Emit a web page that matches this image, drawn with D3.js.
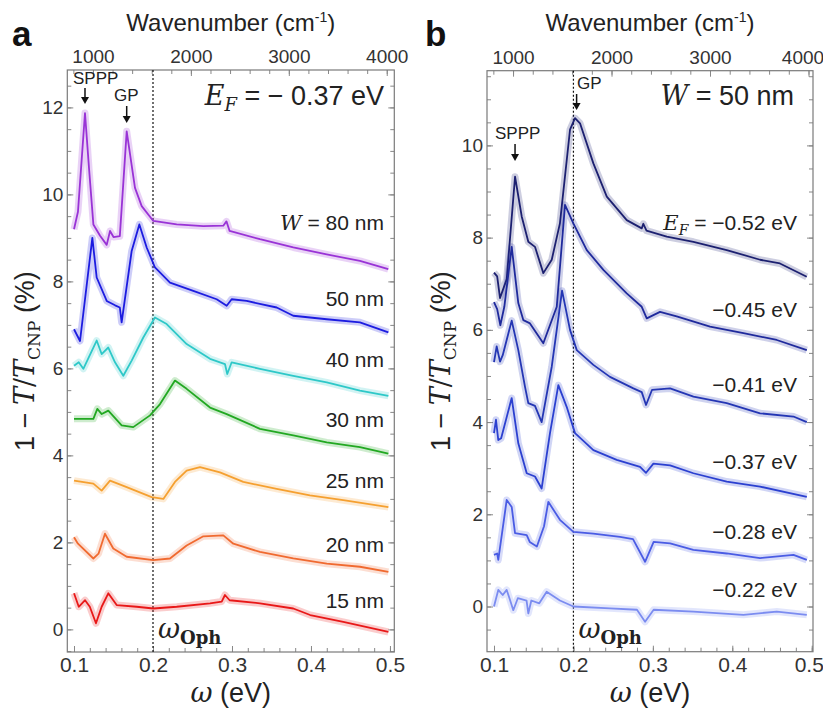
<!DOCTYPE html>
<html>
<head>
<meta charset="utf-8">
<title>Plasmon extinction spectra</title>
<script src="https://cdn.jsdelivr.net/npm/d3@7"></script>
<style>
  body{margin:0;background:#fff;}
  svg{display:block;font-family:"Liberation Sans",Arial,sans-serif;}
  .tick text{fill:#333;font-size:19px;}
  .domain{display:none;}
  .tick line{stroke:#888;}
  .serif{font-family:"DejaVu Serif","Liberation Serif",serif;}
</style>
</head>
<body>
<div id="chart"></div>
<script>
// ---- panel a : E_F = -0.37 eV, varying ribbon width  [omega (eV), 1-T/Tcnp (%)]
var w80 = [[0.1,9.2],[0.105,9.6],[0.1139,11.87],[0.119,10.6],[0.1245,9.31],[0.133,9.05],[0.1414,8.84],[0.1456,9.16],[0.15,9.02],[0.158,9.04],[0.1667,11.45],[0.1772,10.15],[0.1857,9.73],[0.2004,9.39],[0.23,9.31],[0.2637,9.27],[0.289,9.28],[0.293,9.38],[0.297,9.16],[0.3354,8.97],[0.3776,8.78],[0.4199,8.62],[0.462,8.47],[0.4979,8.28]];
var w50 = [[0.1,6.9],[0.1076,6.63],[0.1232,9.0],[0.1287,8.09],[0.1414,7.55],[0.152,7.45],[0.158,7.4],[0.1603,7.06],[0.173,8.7],[0.1827,9.31],[0.192,8.78],[0.2025,8.32],[0.2215,7.97],[0.251,7.78],[0.2806,7.59],[0.2933,7.44],[0.2996,7.59],[0.3186,7.55],[0.3566,7.4],[0.3776,7.21],[0.42,7.13],[0.462,7.06],[0.498,6.83]];
var w40 = [[0.1,6.06],[0.106,6.14],[0.1118,5.99],[0.1287,6.64],[0.135,6.33],[0.1434,6.48],[0.1519,6.14],[0.1624,5.83],[0.173,6.18],[0.1877,6.71],[0.2025,7.17],[0.2173,7.02],[0.2426,6.56],[0.2722,6.22],[0.2911,6.1],[0.294,5.87],[0.2996,6.14],[0.3354,5.99],[0.3776,5.83],[0.42,5.68],[0.462,5.49],[0.498,5.37]];
var w30 = [[0.1,4.84],[0.1245,4.84],[0.1295,5.07],[0.1351,4.95],[0.1434,5.03],[0.1603,4.69],[0.175,4.65],[0.1962,4.92],[0.2089,5.18],[0.2278,5.72],[0.2426,5.53],[0.2722,5.1],[0.2933,4.95],[0.3354,4.61],[0.3776,4.46],[0.42,4.3],[0.462,4.19],[0.498,4.04]];
var w25 = [[0.1,3.42],[0.1245,3.35],[0.135,3.19],[0.1456,3.42],[0.1667,3.27],[0.1983,3.04],[0.2131,3.0],[0.2278,3.39],[0.2426,3.65],[0.2595,3.73],[0.2848,3.61],[0.3143,3.39],[0.3566,3.23],[0.3987,3.08],[0.4409,2.97],[0.498,2.81]];
var w20 = [[0.1,2.12],[0.105,1.97],[0.1245,1.63],[0.131,1.74],[0.1392,2.2],[0.1497,1.86],[0.1667,1.67],[0.2004,1.59],[0.2215,1.63],[0.2426,1.93],[0.2637,2.14],[0.289,2.16],[0.3017,1.97],[0.3354,1.78],[0.3776,1.63],[0.42,1.51],[0.462,1.44],[0.498,1.32]];
var w15 = [[0.1,0.83],[0.106,0.52],[0.114,0.67],[0.12,0.52],[0.1278,0.14],[0.135,0.52],[0.1434,0.83],[0.154,0.56],[0.1793,0.52],[0.2004,0.48],[0.23,0.52],[0.2722,0.6],[0.287,0.64],[0.2911,0.79],[0.297,0.67],[0.3354,0.6],[0.3776,0.48],[0.399,0.33],[0.4409,0.17],[0.498,-0.06]];

// ---- panel b : W = 50 nm, varying Fermi level
var ef52 = [[0.1,7.24],[0.104,7.16],[0.1076,6.69],[0.116,7.1],[0.1265,9.32],[0.1349,8.46],[0.1432,7.91],[0.1516,7.8],[0.1621,7.23],[0.1727,7.52],[0.183,8.31],[0.1957,10.34],[0.202,10.59],[0.2083,10.48],[0.2251,9.61],[0.242,8.89],[0.2671,8.38],[0.286,8.2],[0.288,8.3],[0.292,8.15],[0.3175,8.02],[0.3511,7.91],[0.393,7.73],[0.435,7.52],[0.46,7.44],[0.4937,7.15]];
var ef45 = [[0.1,6.6],[0.104,6.45],[0.108,6.1],[0.113,6.5],[0.1223,7.8],[0.1306,6.58],[0.137,6.21],[0.1453,6.14],[0.1621,5.71],[0.179,6.5],[0.1894,8.71],[0.1999,8.31],[0.2168,7.73],[0.2377,7.3],[0.2671,6.79],[0.286,6.5],[0.2923,6.25],[0.309,6.39],[0.33,6.29],[0.372,6.07],[0.414,5.93],[0.456,5.78],[0.4938,5.56]];
var ef41 = [[0.1,5.3],[0.1034,5.64],[0.1076,5.31],[0.111,5.45],[0.1223,6.2],[0.1306,5.56],[0.139,4.77],[0.1432,4.41],[0.1516,4.35],[0.16,4.0],[0.1727,5.2],[0.1857,6.85],[0.1957,6.0],[0.2042,5.56],[0.2251,5.24],[0.246,4.98],[0.2755,4.73],[0.286,4.65],[0.2914,4.37],[0.299,4.7],[0.3217,4.73],[0.3511,4.55],[0.393,4.41],[0.435,4.19],[0.477,4.12],[0.4938,4.0]];
var ef37 = [[0.1,3.76],[0.1025,4.05],[0.1054,3.61],[0.109,3.65],[0.1223,4.52],[0.1306,3.54],[0.1412,2.89],[0.1516,2.82],[0.16,2.56],[0.1705,3.76],[0.181,4.8],[0.1915,4.33],[0.202,3.76],[0.2251,3.39],[0.2545,3.18],[0.2839,3.03],[0.2914,2.9],[0.3007,3.1],[0.3217,3.06],[0.3511,2.89],[0.393,2.71],[0.435,2.6],[0.4938,2.38]];
var ef28 = [[0.1,1.12],[0.104,1.15],[0.1054,1.01],[0.116,2.31],[0.1223,2.16],[0.1265,1.59],[0.1412,1.55],[0.145,1.4],[0.154,1.3],[0.163,1.74],[0.1684,2.27],[0.183,1.88],[0.1999,1.62],[0.225,1.58],[0.2587,1.51],[0.275,1.46],[0.2902,0.97],[0.301,1.4],[0.3217,1.37],[0.351,1.23],[0.393,1.15],[0.435,1.05],[0.477,1.12],[0.4938,1.01]];
var ef22 = [[0.1,0.0],[0.1054,0.36],[0.111,0.25],[0.116,0.36],[0.12,0.15],[0.1243,-0.08],[0.13,0.18],[0.141,0.13],[0.1432,-0.15],[0.147,0.13],[0.157,0.07],[0.1663,0.32],[0.183,0.13],[0.1999,0.0],[0.246,-0.04],[0.28,-0.07],[0.2902,-0.33],[0.301,-0.07],[0.351,-0.11],[0.414,-0.18],[0.456,-0.11],[0.4938,-0.18]];

var seriesA = [w80, w50, w40, w30, w25, w20, w15];
var seriesB = [ef52, ef45, ef41, ef37, ef28, ef22];
var labelsA = ["80 nm", "50 nm", "40 nm", "30 nm", "25 nm", "20 nm", "15 nm"];
var labelsB = ["\u22120.52 eV", "\u22120.45 eV", "\u22120.41 eV", "\u22120.37 eV", "\u22120.28 eV", "\u22120.22 eV"];
var wavenumberTicks = [1000, 2000, 3000, 4000];
var omegaTicks = [0.1, 0.2, 0.3, 0.4, 0.5];
var yTicksA = [0, 2, 4, 6, 8, 10, 12];
var yTicksB = [0, 2, 4, 6, 8, 10];
var omegaOph = 0.2;
var cmToEv = 1.23984e-4;

var colorsA = ["#9933d6", "#1c1ce0", "#2ec8c8", "#22a822", "#f5a030", "#f06a30", "#e81818"];
var colorsB = ["#1c2070", "#1f2a9c", "#2436b4", "#2b40d0", "#4a5ce4", "#7b8cf0"];

var svg = d3.select("#chart").append("svg").attr("width", 823).attr("height", 711);

function drawPanel(p) {
  var x = d3.scaleLinear().domain(p.xd).range([p.left, p.right]);
  var y = d3.scaleLinear().domain(p.yd).range([p.bottom, p.top]);
  var g = svg.append("g");
  var h = p.bottom - p.top, w = p.right - p.left;

  // minor ticks
  var minorX = d3.range(0.1, 0.501, 0.02);
  var minorY = d3.range(Math.ceil(p.yd[0]*2)/2, p.yd[1], 0.5);
  var minorTop = d3.range(800, 4001, 200).map(function(k){ return k*cmToEv; });
  g.append("g").attr("transform", "translate(0," + p.bottom + ")")
    .call(d3.axisBottom(x).tickValues(minorX).tickSize(-4).tickFormat(""));
  g.append("g").attr("transform", "translate(0," + p.top + ")")
    .call(d3.axisTop(x).tickValues(minorTop).tickSize(-4).tickFormat(""));
  g.append("g").attr("transform", "translate(" + p.left + ",0)")
    .call(d3.axisLeft(y).tickValues(minorY).tickSize(-4).tickFormat(""));
  g.append("g").attr("transform", "translate(" + p.right + ",0)")
    .call(d3.axisRight(y).tickValues(minorY).tickSize(-4).tickFormat(""));

  // labelled ticks
  var bx = g.append("g").attr("transform", "translate(0," + p.bottom + ")")
    .call(d3.axisBottom(x).tickValues(omegaTicks).tickSize(-6).tickPadding(5).tickFormat(d3.format(".1f")));
  bx.selectAll("text").style("font-size", "21px");
  var tx = g.append("g").attr("transform", "translate(0," + p.top + ")")
    .call(d3.axisTop(x).tickValues(wavenumberTicks.map(function(k){ return k*cmToEv; }))
      .tickSize(-6).tickPadding(7).tickFormat(function(d){ return Math.round(d/cmToEv); }));
  tx.selectAll("text").style("font-size", "19px");
  if (p.nudgeLast) {
    bx.selectAll("text").filter(function(d){ return d === 0.5; }).attr("dx", -3);
    tx.selectAll("text").filter(function(d){ return Math.round(d/cmToEv) === 4000; }).attr("dx", -6);
  }
  g.append("g").attr("transform", "translate(" + p.left + ",0)")
    .call(d3.axisLeft(y).tickValues(p.yticks).tickSize(-6).tickPadding(4))
    .selectAll("text").style("font-size", "19px");
  g.append("g").attr("transform", "translate(" + p.right + ",0)")
    .call(d3.axisRight(y).tickValues(p.yticks).tickSize(-6).tickFormat(""));

  g.append("rect").attr("x", p.left).attr("y", p.top).attr("width", w).attr("height", h)
    .attr("fill", "none").attr("stroke", "#7a7a7a").attr("stroke-width", 1.2);

  // omega_Oph line
  g.append("line").attr("x1", x(omegaOph)).attr("x2", x(omegaOph))
    .attr("y1", p.top).attr("y2", p.bottom)
    .attr("stroke", "#111").attr("stroke-width", 1.2).attr("stroke-dasharray", "2,2");

  var line = d3.line().x(function(d){ return x(d[0]); }).y(function(d){ return y(d[1]); });
  p.series.forEach(function(s, i) {
    // faint band standing in for the scattered raw points
    g.append("path").datum(s).attr("d", line).attr("fill", "none")
      .attr("stroke", p.colors[i]).attr("stroke-opacity", 0.22)
      .attr("stroke-width", 7).attr("stroke-linejoin", "round");
    g.append("path").datum(s).attr("d", line).attr("fill", "none")
      .attr("stroke", p.colors[i]).attr("stroke-width", 1.8).attr("stroke-linejoin", "round");
  });

  // curve labels
  p.labels.forEach(function(l, i) {
    var t = g.append("text").attr("x", p.labelX).attr("y", p.labelY[i])
      .attr("text-anchor", "end").style("font-size", "21px").attr("fill", "#222");
    if (i === 0) {
      t.append("tspan").attr("class", "serif").style("font-style", "italic").text(p.firstPre);
      if (p.firstSub) t.append("tspan").attr("class", "serif").style("font-style", "italic")
        .style("font-size", "14px").attr("dy", 5).text(p.firstSub);
      t.append("tspan").attr("dy", p.firstSub ? -5 : 0).text(" = " + l);
    } else {
      t.text(l);
    }
  });

  // axis titles
  svg.append("text").attr("x", (p.left + p.right)/2).attr("y", 31).attr("text-anchor", "middle")
    .style("font-size", "24px").attr("fill", "#222")
    .html('Wavenumber (cm<tspan dy="-9" font-size="14">-1</tspan><tspan dy="9">)</tspan>');
  var xt = svg.append("text").attr("x", (p.left + p.right)/2).attr("y", 702).attr("text-anchor", "middle")
    .style("font-size", "27px").attr("fill", "#222");
  xt.append("tspan").attr("class", "serif").style("font-style", "italic").text("\u03c9");
  xt.append("tspan").text(" (eV)");

  var yt = svg.append("text").attr("transform", "translate(" + p.ytitleX + "," + ((p.top + p.bottom)/2) + ") rotate(-90)")
    .attr("text-anchor", "middle").style("font-size", "27px").attr("fill", "#222");
  yt.append("tspan").text("1 \u2212 ");
  yt.append("tspan").attr("class", "serif").style("font-style", "italic").text("T");
  yt.append("tspan").attr("class", "serif").text("/");
  yt.append("tspan").attr("class", "serif").style("font-style", "italic").text("T");
  yt.append("tspan").attr("class", "serif").style("font-size", "17px").attr("dy", 6).text("CNP");
  yt.append("tspan").attr("dy", -6).text(" (%)");

  // panel letter
  svg.append("text").attr("x", p.letterX).attr("y", 46).style("font-size", "35px")
    .style("font-weight", "bold").attr("fill", "#111").text(p.letter);

  // header label
  var hd = g.append("text").attr("x", p.headX).attr("y", 105).attr("text-anchor", "end")
    .style("font-size", "27px").attr("fill", "#222");
  hd.append("tspan").attr("class", "serif").style("font-style", "italic").text(p.headVar);
  if (p.headSub) hd.append("tspan").attr("class", "serif").style("font-style", "italic")
    .style("font-size", "18px").attr("dy", 6).text(p.headSub);
  hd.append("tspan").attr("dy", p.headSub ? -6 : 0).text(p.headRest);

  // omega_Oph label
  var wo = g.append("text").attr("x", x(omegaOph) + 5).attr("y", 638).style("font-size", "27px").attr("fill", "#222");
  wo.append("tspan").attr("class", "serif").style("font-style", "italic").text("\u03c9");
  wo.append("tspan").attr("class", "serif").style("font-weight", "bold").style("font-size", "18px").attr("dy", 6).text("Oph");

  // peak annotations
  p.marks.forEach(function(m) {
    g.append("text").attr("x", m.tx).attr("y", m.ty).style("font-size", "17px").attr("fill", "#222").text(m.text);
    var ax = x(m.w);
    g.append("line").attr("x1", ax).attr("x2", ax).attr("y1", m.a0).attr("y2", m.a1 - 5)
      .attr("stroke", "#111").attr("stroke-width", 1.5);
    g.append("path").attr("d", "M" + (ax-4) + "," + (m.a1-7) + "L" + (ax+4) + "," + (m.a1-7) + "L" + ax + "," + m.a1 + "Z")
      .attr("fill", "#111");
  });
}

drawPanel({
  letter: "a", letterX: 12, left: 67.3, right: 394.3, top: 70, bottom: 652,
  xd: [0.0915, 0.5055], yd: [-0.52, 12.86], yticks: yTicksA, ytitleX: 34,
  series: seriesA, colors: colorsA, labels: labelsA, labelX: 384,
  labelY: [230, 306, 367, 427, 488, 552, 608], firstPre: "W", firstSub: "",
  headX: 384, headVar: "E", headSub: "F", headRest: " = \u2212 0.37 eV",
  marks: [{text: "SPPP", tx: 73, ty: 84, w: 0.1139, a0: 88, a1: 104},
          {text: "GP", tx: 114, ty: 101, w: 0.1667, a0: 106, a1: 123}]
});

drawPanel({
  letter: "b", letterX: 425, left: 487, right: 813, top: 70.7, bottom: 651.7,
  xd: [0.0912, 0.5016], yd: [-0.98, 11.62], yticks: yTicksB, ytitleX: 450, nudgeLast: true,
  series: seriesB, colors: colorsB, labels: labelsB, labelX: 797,
  labelY: [230, 317, 392, 469, 539, 597], firstPre: "E", firstSub: "F",
  headX: 794, headVar: "W", headSub: "", headRest: " = 50 nm",
  marks: [{text: "SPPP", tx: 495, ty: 139, w: 0.1265, a0: 144, a1: 161},
          {text: "GP", tx: 577, ty: 89, w: 0.204, a0: 94, a1: 110}]
});
</script>
</body>
</html>
